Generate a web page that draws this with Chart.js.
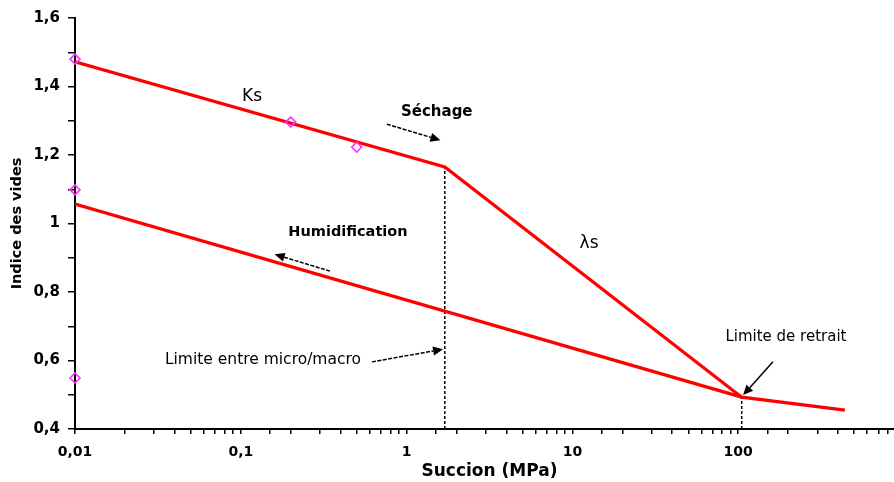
<!DOCTYPE html>
<html>
<head>
<meta charset="utf-8">
<title>Indice des vides - succion</title>
<script src="https://cdn.jsdelivr.net/npm/chart.js@4.4.0/dist/chart.umd.min.js"></script>
<style>
  html, body { margin: 0; padding: 0; background: #fff; overflow: hidden; width: 894px; height: 482px; }
  canvas { display: block; }
</style>
</head>
<body>
<canvas id="courbe" width="914" height="482"></canvas>
<script>
// chemin de séchage (Ks puis λs puis après la limite de retrait)
const secheX = [0.01, 1.7, 105, 440];
const secheY = [1.472, 1.165, 0.493, 0.455];

// chemin d'humidification
const humidX = [0.01, 105];
const humidY = [1.057, 0.493];

// points mesurés (losanges)
const mesX = [0.01, 0.2, 0.5, 0.01, 0.01];
const mesY = [1.48, 1.296, 1.223, 1.098, 0.549];

// limites (traits verticaux pointillés)
const limMicroX = 1.7;
const limMicroY = 1.165;
const limRetraitX = 105;
const limRetraitY = 0.493;

// étiquettes des graduations
const xTickVals = [0.01, 0.1, 1, 10, 100];
const xTickLabels = ['0,01', '0,1', '1', '10', '100'];
const yTickVals = [0.4, 0.6, 0.8, 1, 1.2, 1.4, 1.6];
const yTickLabels = ['0,4', '0,6', '0,8', '1', '1,2', '1,4', '1,6'];

// textes sur le graphique (coordonnées dans les unités des axes)
const textes = [
  { t: 'Ks', x: 0.117, y: 1.37, f: '17px "DejaVu Sans"' },
  { t: 'Séchage', x: 1.52, y: 1.325, f: 'bold 15px "DejaVu Sans"' },
  { t: 'Humidification', x: 0.443, y: 0.975, f: 'bold 14.5px "DejaVu Sans"' },
  { t: 'λs', x: 12.6, y: 0.94, f: '17px "DejaVu Sans"' },
  { t: 'Limite entre micro/macro', x: 0.136, y: 0.601, f: '15.5px "DejaVu Sans"' },
  { t: 'Limite de retrait', x: 194, y: 0.668, f: '15px "DejaVu Sans"' }
];

// flèches
const fleches = [
  { x1: 0.76, y1: 1.29, x2: 1.6, y2: 1.243, dash: true },
  { x1: 0.345, y1: 0.861, x2: 0.16, y2: 0.91, dash: true },
  { x1: 0.618, y1: 0.596, x2: 1.66, y2: 0.633, dash: true },
  { x1: 162, y1: 0.596, x2: 107, y2: 0.499, dash: false }
];

function pts(xs, ys) {
  return xs.map((v, i) => ({ x: v, y: ys[i] }));
}

const annotPlugin = {
  id: 'annot',
  afterDatasetsDraw(chart) {
    const ctx = chart.ctx;
    const sx = chart.scales.x;
    const sy = chart.scales.y;
    ctx.save();
    ctx.fillStyle = '#000';
    ctx.strokeStyle = '#000';
    ctx.textAlign = 'center';
    ctx.textBaseline = 'middle';
    textes.forEach(a => {
      ctx.font = a.f;
      ctx.fillText(a.t, sx.getPixelForValue(a.x), sy.getPixelForValue(a.y));
    });
    fleches.forEach(a => {
      const x1 = sx.getPixelForValue(a.x1), y1 = sy.getPixelForValue(a.y1);
      const x2 = sx.getPixelForValue(a.x2), y2 = sy.getPixelForValue(a.y2);
      const ang = Math.atan2(y2 - y1, x2 - x1);
      const L = 10, W = 4.5;
      ctx.lineWidth = 1.5;
      ctx.setLineDash(a.dash ? [4, 1.5] : []);
      ctx.beginPath();
      ctx.moveTo(x1, y1);
      ctx.lineTo(x2 - L * Math.cos(ang), y2 - L * Math.sin(ang));
      ctx.stroke();
      ctx.setLineDash([]);
      ctx.beginPath();
      ctx.moveTo(x2, y2);
      ctx.lineTo(x2 - L * Math.cos(ang) + W * Math.sin(ang), y2 - L * Math.sin(ang) - W * Math.cos(ang));
      ctx.lineTo(x2 - L * Math.cos(ang) - W * Math.sin(ang), y2 - L * Math.sin(ang) + W * Math.cos(ang));
      ctx.closePath();
      ctx.fill();
    });
    ctx.restore();
  }
};

Chart.defaults.font.family = '"DejaVu Sans", sans-serif';
Chart.defaults.color = '#000';

const ctx = document.getElementById('courbe').getContext('2d');
const chart = new Chart(ctx, {
  type: 'scatter',
  data: {
    datasets: [
      {
        label: 'mesures',
        data: pts(mesX, mesY),
        pointStyle: 'rectRot',
        pointRadius: 5,
        pointBorderColor: '#ff33ff',
        pointBackgroundColor: 'rgba(255,255,255,0)',
        pointBorderWidth: 1.6,
        showLine: false,
        clip: false
      },
      {
        label: 'séchage',
        data: pts(secheX, secheY),
        showLine: true,
        borderColor: '#ff0000',
        borderWidth: 3.2,
        pointRadius: 0,
        tension: 0
      },
      {
        label: 'humidification',
        data: pts(humidX, humidY),
        showLine: true,
        borderColor: '#ff0000',
        borderWidth: 3.2,
        pointRadius: 0,
        tension: 0
      },
      {
        label: 'limite micro/macro',
        data: pts([limMicroX, limMicroX], [0.4, limMicroY]),
        showLine: true,
        borderColor: '#000',
        borderWidth: 1.5,
        borderDash: [3, 2],
        pointRadius: 0
      },
      {
        label: 'limite de retrait',
        data: pts([limRetraitX, limRetraitX], [0.4, limRetraitY]),
        showLine: true,
        borderColor: '#000',
        borderWidth: 1.5,
        borderDash: [3, 2],
        pointRadius: 0
      }
    ]
  },
  options: {
    responsive: false,
    animation: false,
    devicePixelRatio: 1,
    layout: { padding: { top: 18, right: 0, left: 0, bottom: 0 } },
    plugins: {
      legend: { display: false },
      tooltip: { enabled: false }
    },
    scales: {
      x: {
        type: 'logarithmic',
        min: 0.01,
        max: 1000,
        afterFit: s => { s.height = 53; },
        border: { color: '#000', width: 2 },
        grid: { drawOnChartArea: false, drawTicks: true, tickLength: 5, color: '#000', lineWidth: 1.5 },
        ticks: {
          autoSkip: false,
          maxRotation: 0,
          padding: 10,
          font: { size: 14, weight: 'bold' },
          callback: v => {
            const i = xTickVals.findIndex(t => Math.abs(t - v) / t < 1e-6);
            return i >= 0 ? xTickLabels[i] : '';
          }
        },
        title: {
          display: true,
          text: 'Succion (MPa)',
          font: { size: 17, weight: 'bold' },
          padding: { top: 1, bottom: 0 }
        }
      },
      y: {
        type: 'linear',
        min: 0.4,
        max: 1.6,
        afterFit: s => { s.width = 75; },
        border: { color: '#000', width: 2 },
        grid: { drawOnChartArea: false, drawTicks: true, tickLength: 7, color: '#000', lineWidth: 1.5 },
        ticks: {
          stepSize: 0.1,
          autoSkip: false,
          padding: 8,
          font: { size: 15, weight: 'bold' },
          callback: v => {
            const i = yTickVals.findIndex(t => Math.abs(t - v) < 1e-6);
            return i >= 0 ? yTickLabels[i] : '';
          }
        },
        title: {
          display: true,
          text: 'Indice des vides',
          font: { size: 14.5, weight: 'bold' },
          padding: { top: 9, bottom: 0 }
        }
      }
    }
  },
  plugins: [annotPlugin]
});
</script>
</body>
</html>
